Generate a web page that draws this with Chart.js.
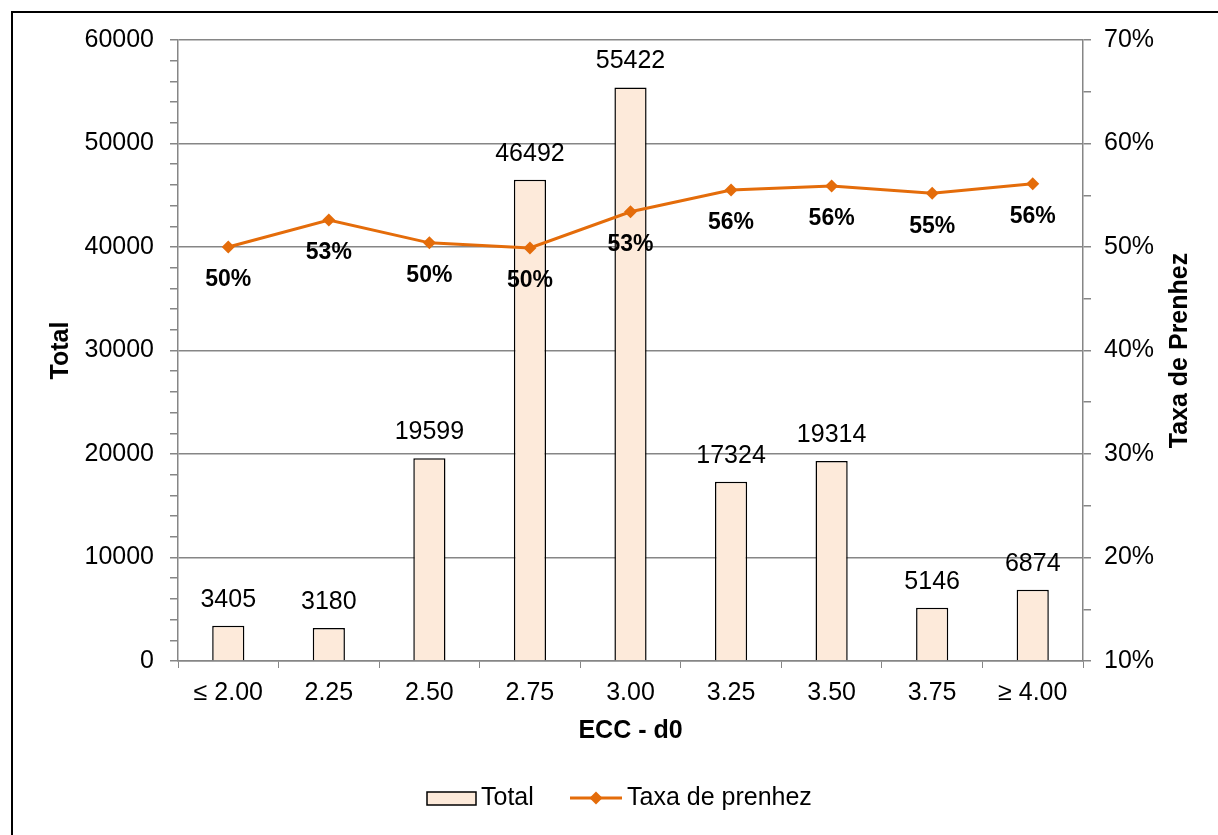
<!DOCTYPE html>
<html>
<head>
<meta charset="utf-8">
<script src="https://cdn.jsdelivr.net/npm/chart.js@4"></script>
<style>
  html, body { margin: 0; padding: 0; background: #fff; overflow: hidden; }
  canvas { display: block; }
</style>
</head>
<body>
<canvas id="eccChart" width="1218" height="835"></canvas>
<script>
const categories = ['≤ 2.00', '2.25', '2.50', '2.75', '3.00', '3.25', '3.50', '3.75', '≥ 4.00'];
const totals = [3405, 3180, 19599, 46492, 55422, 17324, 19314, 5146, 6874];
const taxaPrenhez = [50.0, 52.6, 50.4, 49.9, 53.4, 55.5, 55.9, 55.2, 56.1];

const FONT = '"Liberation Sans", Arial, sans-serif';
const ORANGE = '#E46C0A';
const BAR_FILL = '#FDEADA';
const AXIS_GREY = '#868686';

// labels, axis titles, legend and the outer frame
const extras = {
  id: 'extras',
  afterDatasetsDraw(chart) {
    const c = chart.ctx;
    const area = chart.chartArea;
    c.save();
    c.fillStyle = '#000';
    c.textAlign = 'center';
    c.textBaseline = 'middle';

    // bar value labels
    c.font = '25px ' + FONT;
    chart.getDatasetMeta(0).data.forEach((bar, i) => {
      c.fillText(String(totals[i]), bar.x, bar.y - 26);
    });

    // line value labels
    c.font = 'bold 23px ' + FONT;
    chart.getDatasetMeta(1).data.forEach((pt, i) => {
      c.fillText(Math.round(taxaPrenhez[i]) + '%', pt.x, pt.y + 33);
    });

    // axis titles
    const midY = (area.top + area.bottom) / 2;
    c.font = 'bold 25px ' + FONT;
    c.fillText('ECC - d0', (area.left + area.right) / 2, 731);
    c.save();
    c.translate(61, midY);
    c.rotate(-Math.PI / 2);
    c.fillText('Total', 0, 0);
    c.restore();
    c.save();
    c.translate(1180, midY);
    c.rotate(-Math.PI / 2);
    c.fillText('Taxa de Prenhez', 0, 0);
    c.restore();

    // legend
    const ly = 798;
    c.fillStyle = BAR_FILL;
    c.fillRect(427, 792, 49, 13);
    c.strokeStyle = '#000';
    c.lineWidth = 1.5;
    c.strokeRect(427, 792, 49, 13);
    c.fillStyle = '#000';
    c.font = '25px ' + FONT;
    c.textAlign = 'left';
    c.fillText('Total', 481, ly);

    c.strokeStyle = ORANGE;
    c.lineWidth = 3;
    c.beginPath();
    c.moveTo(570, ly);
    c.lineTo(622, ly);
    c.stroke();
    c.fillStyle = ORANGE;
    c.beginPath();
    c.moveTo(596, ly - 6.5);
    c.lineTo(602.5, ly);
    c.lineTo(596, ly + 6.5);
    c.lineTo(589.5, ly);
    c.closePath();
    c.fill();
    c.fillStyle = '#000';
    c.fillText('Taxa de prenhez', 627, ly);

    // outer frame (top and left edges visible)
    c.strokeStyle = '#000';
    c.lineWidth = 2;
    c.beginPath();
    c.moveTo(12, 840);
    c.lineTo(12, 12);
    c.lineTo(1230, 12);
    c.stroke();
    c.restore();
  }
};

new Chart(document.getElementById('eccChart').getContext('2d'), {
  data: {
    labels: categories,
    datasets: [
      {
        type: 'bar',
        label: 'Total',
        data: totals,
        yAxisID: 'y',
        backgroundColor: BAR_FILL,
        borderColor: '#000',
        borderWidth: 1.5,
        barPercentage: 0.32,
        categoryPercentage: 1,
        order: 2
      },
      {
        type: 'line',
        label: 'Taxa de prenhez',
        data: taxaPrenhez,
        yAxisID: 'y2',
        borderColor: ORANGE,
        backgroundColor: ORANGE,
        borderWidth: 3,
        pointStyle: 'rectRot',
        pointRadius: 6.5,
        pointBorderWidth: 0,
        tension: 0,
        order: 1
      }
    ]
  },
  options: {
    responsive: false,
    animation: false,
    layout: { padding: { top: 40, left: 0, right: 0, bottom: 0 } },
    plugins: {
      legend: { display: false },
      tooltip: { enabled: false }
    },
    scales: {
      x: {
        offset: true,
        afterFit: s => { s.height = 174; },
        grid: {
          offset: true,
          drawOnChartArea: false,
          color: AXIS_GREY,
          tickLength: 7
        },
        border: { color: AXIS_GREY, width: 1.5 },
        ticks: {
          color: '#000',
          font: { family: FONT, size: 25 },
          padding: 10,
          maxRotation: 0,
          autoSkip: false
        }
      },
      y: {
        position: 'left',
        min: 0,
        max: 60000,
        afterFit: s => { s.width = 178; },
        grid: {
          color: ctx => (ctx.tick && ctx.tick.value % 10000 === 0) ? AXIS_GREY : 'rgba(0,0,0,0)',
          tickColor: AXIS_GREY,
          tickLength: 8,
          lineWidth: 1.5
        },
        border: { color: AXIS_GREY, width: 1.5 },
        ticks: {
          stepSize: 2000,
          autoSkip: false,
          color: '#000',
          padding: 16,
          font: { family: FONT, size: 25 },
          callback: v => (v % 10000 === 0 ? String(v) : '')
        }
      },
      y2: {
        position: 'right',
        min: 10,
        max: 70,
        afterFit: s => { s.width = 135; },
        grid: {
          drawOnChartArea: false,
          color: AXIS_GREY,
          tickLength: 8,
          lineWidth: 1.5
        },
        border: { color: AXIS_GREY, width: 1.5 },
        ticks: {
          stepSize: 5,
          autoSkip: false,
          color: '#000',
          padding: 13,
          font: { family: FONT, size: 25 },
          callback: v => (Math.round(v) % 10 === 0 ? Math.round(v) + '%' : '')
        }
      }
    }
  },
  plugins: [extras]
});
</script>
</body>
</html>
